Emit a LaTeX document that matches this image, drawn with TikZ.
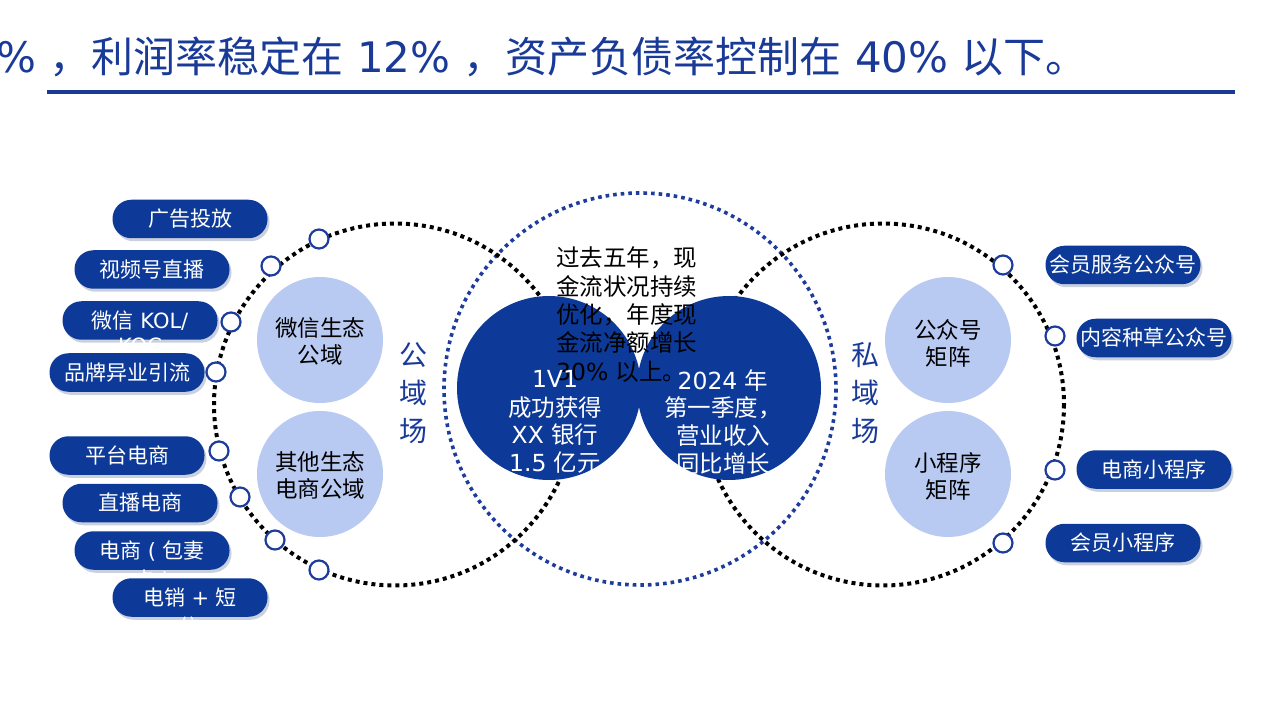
\documentclass[tikz,border=0pt]{standalone}
\usepackage{fontspec}
\setmainfont{Noto Sans CJK SC}
\newfontfamily\lat{DejaVu Sans}
\usetikzlibrary{shadows}
\definecolor{navy}{HTML}{0D3A98}
\definecolor{titleblue}{HTML}{1A3A98}
\definecolor{lightblue}{HTML}{B8C9F2}
\definecolor{ringblue}{HTML}{1E3C9C}
\tikzset{
  pill/.style={fill=navy, rounded corners=19pt, minimum width=155pt, minimum height=38.5pt,
    inner sep=0pt, text=white, font=\fontsize{21}{25}\selectfont, text height=16.8pt, text depth=0.84pt,
    drop shadow={shadow xshift=2pt, shadow yshift=-3pt, opacity=0.22, fill=navy!70!black}},
  pilltail/.style={anchor=base, inner sep=0pt, text=white, font=\fontsize{21}{25}\selectfont},
  hdot/.style={circle, draw=ringblue, line width=2.2pt, fill=white, minimum size=19pt, inner sep=0pt},
  blackring/.style={draw=black, line width=4pt, dash pattern=on 4pt off 4pt},
  bluering/.style={draw=ringblue, line width=3.6pt, dash pattern=on 3.6pt off 4pt},
  lightdisc/.style={circle, fill=lightblue, minimum size=126pt, inner sep=0pt},
  darkdisc/.style={circle, fill=navy, minimum size=184pt, inner sep=0pt},
  ltext/.style={anchor=base, inner sep=0pt, font=\fontsize{22.5}{27}\selectfont, text=black},
  wtext/.style={anchor=base, inner sep=0pt, font=\fontsize{23.5}{28}\selectfont, text=white},
  mtext/.style={anchor=base west, inner sep=0pt, font=\fontsize{23.5}{28}\selectfont, text=black},
  vtext/.style={anchor=base, inner sep=0pt, font=\fontsize{28}{32}\selectfont, text=titleblue},
}
\begin{document}
\begin{tikzpicture}[x=1pt,y=-1pt]
\useasboundingbox (0,0) rectangle (1280,719);
\clip (0,0) rectangle (1280,719);

% title
\node[anchor=base east, inner sep=0pt, font=\fontsize{42}{48}\selectfont, text=titleblue] (title) at (1088,73)
  {{\lat\%\ }，利润率稳定在{\lat\ 12\%\ }，资产负债率控制在{\lat\ 40\%\ }以下。};
\coordinate (ruleL) at (47,92);
\coordinate (ruleR) at (1235,92);
\draw[titleblue, line width=4pt] (ruleL) -- (ruleR);

% rings
\coordinate (cL) at (395,404.5);
\coordinate (cR) at (883,404.5);
\coordinate (cM) at (640,389);
\draw[bluering] (cM) circle[radius=196];
\draw[blackring] (cL) circle[radius=181];
\draw[blackring] (cR) circle[radius=181];

% light discs
\node[lightdisc] (wx) at (320,340) {};
\node[lightdisc] (qt) at (320,474) {};
\node[lightdisc] (gz) at (948,340) {};
\node[lightdisc] (xc) at (948,474) {};
\node[ltext] at (320,336.5) {微信生态};
\node[ltext] at (320,363.5) {公域};
\node[ltext] at (320,470.5) {其他生态};
\node[ltext] at (320,497.5) {电商公域};
\node[ltext] at (948,338.5) {公众号};
\node[ltext] at (948,365.5) {矩阵};
\node[ltext] at (948,471.5) {小程序};
\node[ltext] at (948,498.5) {矩阵};

% vertical labels
\node[vtext] at (413,366) {公};
\node[vtext] at (413,403.5) {域};
\node[vtext] at (413,441) {场};
\node[vtext] at (865,366) {私};
\node[vtext] at (865,403.5) {域};
\node[vtext] at (865,441) {场};

% dark discs
\node[darkdisc] (dl) at (549,388) {};
\node[darkdisc] (dr) at (729,388) {};

% middle text
\node[mtext] at (556,267) {过去五年，现};
\node[mtext] at (556,296) {金流状况持续};
\node[mtext] at (556,324) {优化，年度现};
\node[mtext] at (556,352) {金流净额增长};
\node[mtext] at (556,381) {{\lat 30\% }以上。};

% white texts
\node[wtext] at (555,387) {\lat 1V1};
\node[wtext] at (555,416) {成功获得};
\node[wtext] at (555,443) {{\lat XX }银行};
\node[wtext] at (555,471) {{\lat 1.5 }亿元};
\node[wtext] at (723,389) {{\lat 2024 }年};
\node[wtext] at (723,416) {第一季度，};
\node[wtext] at (723,444) {营业收入};
\node[wtext] at (723,472) {同比增长};

% hollow dots on rings
\node[hdot] (a1) at (319,239) {};
\node[hdot] (a2) at (271,266) {};
\node[hdot] (a3) at (231,322) {};
\node[hdot] (a4) at (216,372) {};
\node[hdot] (a5) at (219,451) {};
\node[hdot] (a6) at (240,497) {};
\node[hdot] (a7) at (275,540) {};
\node[hdot] (a8) at (319,570) {};
\node[hdot] (b1) at (1003,265) {};
\node[hdot] (b2) at (1055,336) {};
\node[hdot] (b3) at (1055,470) {};
\node[hdot] (b4) at (1003,543) {};

% pills left
\node[pill] (p1) at (190,219) {广告投放};
\node[pill] (p2) at (152,269.5) {视频号直播};
\node[pill] (p3) at (140,320.5) {微信{\lat\ KOL/}};
\node[pilltail] at (140,354) {\lat KOC};
\node[pill] (p4) at (127,372.5) {品牌异业引流};
\node[pill] (p5) at (127,455.5) {平台电商};
\node[pill] (p6) at (140,503) {直播电商};
\node[pill] (p7) at (152,550.5) {电商{\lat\ ( }包妻};
\node[pilltail] at (152,587) {卡{\lat\ )}};
\node[pill] (p8) at (190,597.5) {电销{\lat\ + }短};
\node[pilltail] at (190,634) {信};

% pills right
\node[pill] (q1) at (1123,265) {会员服务公众号};
\node[pill] (q2) at (1154,338) {内容种草公众号};
\node[pill] (q3) at (1154,469.5) {电商小程序};
\node[pill] (q4) at (1123,543) {会员小程序};
\end{tikzpicture}
\end{document}
